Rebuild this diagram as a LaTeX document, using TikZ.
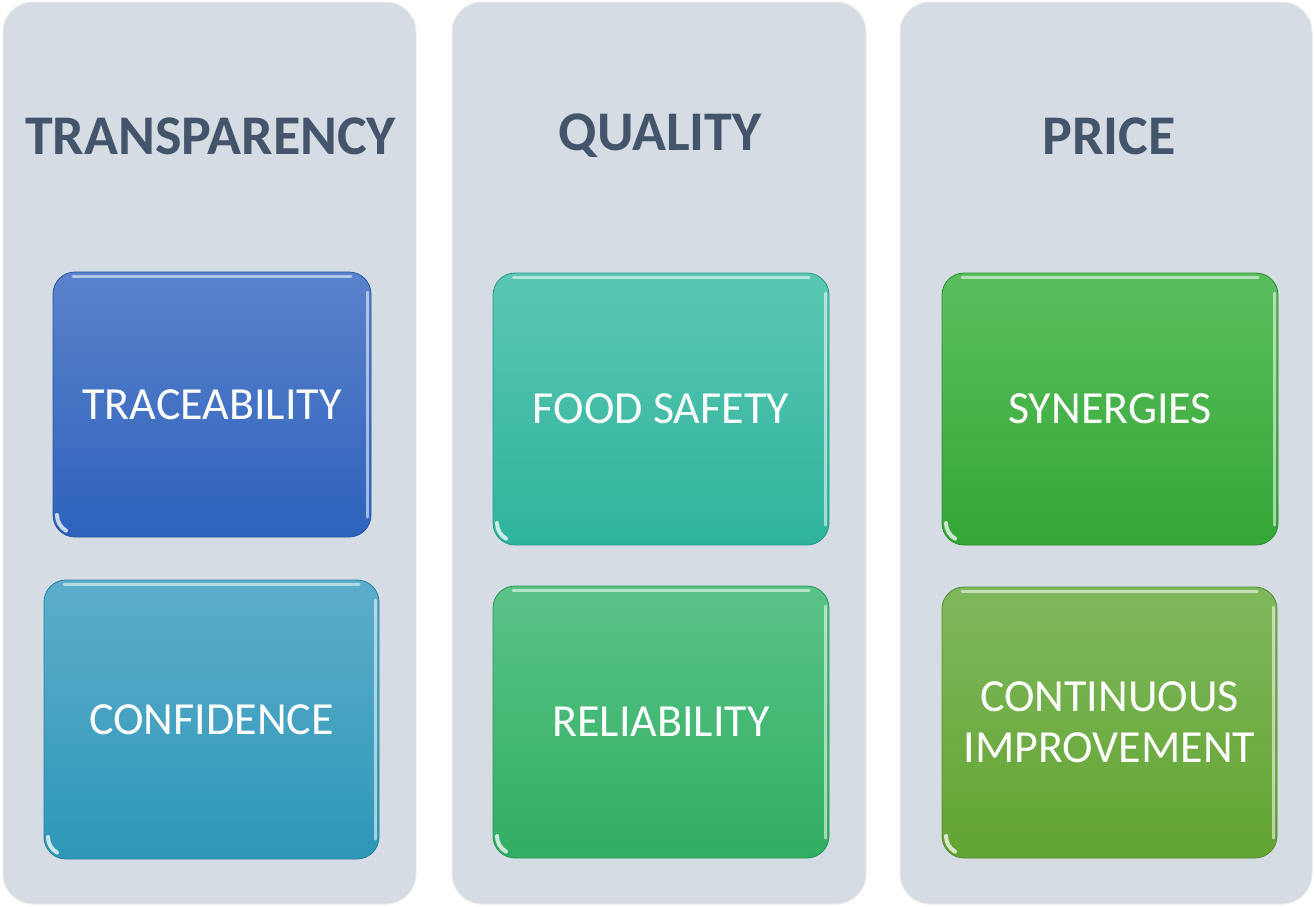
\documentclass[tikz,border=0pt]{standalone}
\usepackage{fontspec}
\setmainfont{Carlito}
\usetikzlibrary{positioning}
\definecolor{panelfill}{HTML}{D5DCE4}
\definecolor{headcol}{HTML}{44546A}
\definecolor{trT}{HTML}{5B82CC}\definecolor{trB}{HTML}{2E62BC}
\definecolor{coT}{HTML}{5DADCB}\definecolor{coB}{HTML}{2E97B8}
\definecolor{fsT}{HTML}{5AC7B2}\definecolor{fsB}{HTML}{2FB39D}
\definecolor{reT}{HTML}{5AC387}\definecolor{reB}{HTML}{31AE63}
\definecolor{syT}{HTML}{5BBE5E}\definecolor{syB}{HTML}{33A735}
\definecolor{ciT}{HTML}{7FB85C}\definecolor{ciB}{HTML}{62A432}
\tikzset{
  panel/.style={draw=white!92!black, line width=1pt, fill=panelfill, rounded corners=30pt},
  heading/.style={text=headcol, font=\fontsize{56}{60}\selectfont\bfseries, anchor=center},
  itembox/.style={rounded corners=22pt, draw=#1B!85!black, line width=0.8pt, top color=#1T, bottom color=#1B},
  itemtext/.style={text=white, font=\fontsize{46}{51}\selectfont, align=center, anchor=center},
  gloss/.style={white, line width=3pt, opacity=0.55, line cap=round},
}
\begin{document}
\begin{tikzpicture}[x=1pt,y=-1pt]
\useasboundingbox (0,0) rectangle (1314,906);
% panels
\draw[panel] (3,2) rectangle (416,904);
\draw[panel] (452,2) rectangle (866,904);
\draw[panel] (900,2) rectangle (1312,904);
% headings
\node[heading] (h1) at (210.5,136) {TRANSPARENCY};
\node[heading] (h2) at (660,136) {QUALITY};
\node[heading] (h3) at (1109,136) {PRICE};
% item boxes
\newcommand{\itembx}[6]{%
  \draw[itembox=#1] (#2,#3) rectangle (#4,#5);
  \draw[gloss] (#2+20,#3+4) -- (#4-20,#3+4);
  \draw[gloss] (#4-4,#3+20) -- (#4-4,#5-20);
  \draw[gloss, line width=4pt, opacity=0.75] (#2+4,#5-22) arc[start angle=180, end angle=120, radius=18];
}
\itembx{tr}{53}{272}{371}{537}{}
\itembx{co}{44}{580}{379}{859}{}
\itembx{fs}{493}{273}{829}{545}{}
\itembx{re}{493}{586}{829}{858}{}
\itembx{sy}{942}{273}{1278}{545}{}
\itembx{ci}{942}{587}{1277}{858}{}
\node[itemtext] (t1) at (212,404.5) {TRACEABILITY};
\node[itemtext] (t2) at (211.5,719.5) {CONFIDENCE};
\node[itemtext] (t3) at (661,409) {FOOD SAFETY};
\node[itemtext] (t4) at (661,722) {RELIABILITY};
\node[itemtext] (t5) at (1110,409) {SYNERGIES};
\node[itemtext] (t6) at (1109.5,722.5) {CONTINUOUS\\IMPROVEMENT};
\end{tikzpicture}
\end{document}
